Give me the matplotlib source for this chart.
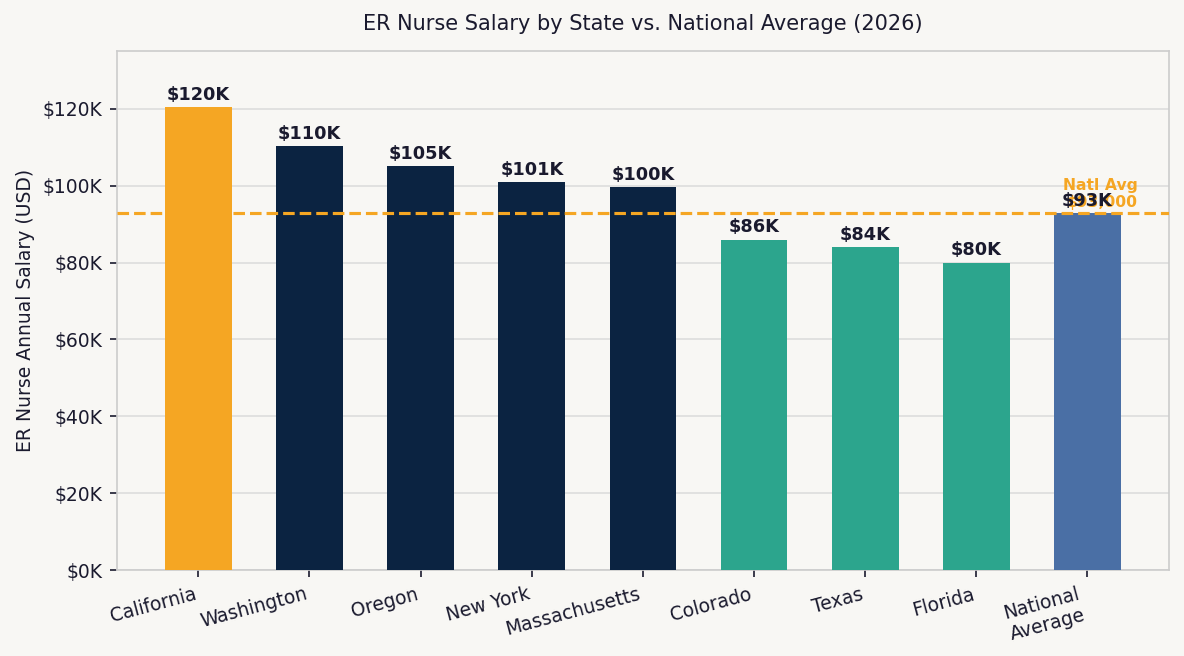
import matplotlib
matplotlib.use("Agg")
import matplotlib.pyplot as plt
from matplotlib.ticker import FuncFormatter

states = ["California", "Washington", "Oregon", "New York", "Massachusetts",
          "Colorado", "Texas", "Florida", "National\nAverage"]
salaries = [120400, 110400, 105000, 101000, 99600, 86000, 84000, 80000, 93000]
national_avg = 93000
bar_colors = ["#F5A623", "#0B2341", "#0B2341", "#0B2341", "#0B2341",
              "#2CA58D", "#2CA58D", "#2CA58D", "#4A6FA5"]

BG = "#F8F7F4"
TXT = "#1A1A2E"

plt.rcParams["font.family"] = ["DejaVu Sans"]
fig, ax = plt.subplots(figsize=(1184 / 150, 656 / 150), dpi=150)
fig.patch.set_facecolor(BG)
ax.set_facecolor(BG)

x = list(range(len(states)))
bars = ax.bar(x, salaries, width=0.6, color=bar_colors, zorder=3)

for xi, v in zip(x, salaries):
    ax.text(xi, v + 800, f"${v/1000:.0f}K", ha="center", va="bottom",
            fontsize=8.5, fontweight="bold", color=TXT, zorder=5)

ax.axhline(national_avg, color="#F5A623", linestyle="--", linewidth=1.5, zorder=4)
ax.text(len(states) - 0.55, national_avg + 800, f"Natl Avg\n${national_avg:,.0f}",
        ha="right", va="bottom", fontsize=7.5, fontweight="bold", color="#F5A623",
        zorder=4, linespacing=1.1)

ax.set_ylim(0, 135000)
ax.yaxis.set_major_formatter(FuncFormatter(lambda v, p: f"${v/1000:.0f}K"))
ax.set_yticks(range(0, 140000, 20000))
ax.set_xticks(x)
ax.set_xticklabels(states, rotation=15, ha="right", rotation_mode="default")
ax.tick_params(axis="both", labelsize=9, colors=TXT)
ax.set_ylabel("ER Nurse Annual Salary (USD)", fontsize=9, color=TXT)
ax.set_title("ER Nurse Salary by State vs. National Average (2026)", fontsize=10,
             color=TXT, pad=10)

ax.grid(axis="y", color="#DDDDDD", linewidth=0.8, zorder=0)
for s in ax.spines.values():
    s.set_color("#CCCCCC")

fig.subplots_adjust(left=0.099, right=0.987, top=0.922, bottom=0.131)
fig.savefig("out.png", dpi=150, facecolor=BG)
